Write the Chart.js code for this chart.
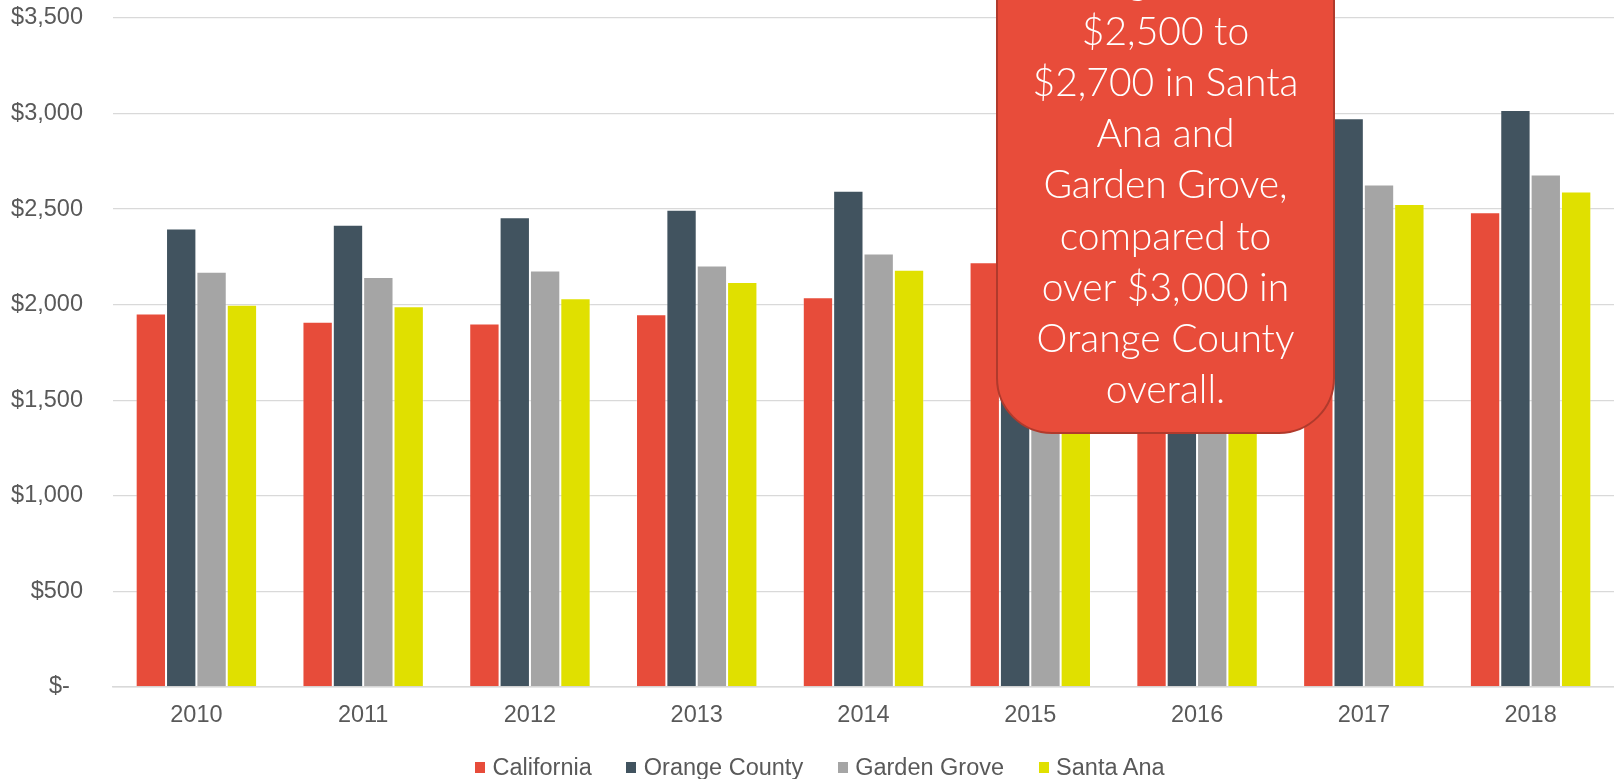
<!DOCTYPE html>
<html>
<head>
<meta charset="utf-8">
<script src="https://cdn.jsdelivr.net/npm/chart.js@4.4.1/dist/chart.umd.min.js"></script>
<style>
  html, body { margin: 0; padding: 0; background: #ffffff; overflow: hidden; }
  #wrap { position: relative; width: 1614px; height: 779px; }
  #legend { position: absolute; left: 475px; top: 754px; display: flex; align-items: center;
            font-family: 'Liberation Sans', Arial, sans-serif; font-size: 23.5px; color: #595959; white-space: nowrap; }
  #legend .item { display: flex; align-items: center; margin-right: 34.5px; }
  #legend .item:last-child { margin-right: 0; }
  #legend .box { width: 10px; height: 11px; margin-right: 7.5px; }
</style>
</head>
<body>
<div id="wrap">
  <canvas id="c" width="1614" height="779"></canvas>
  <div id="legend"></div>
</div>
<script>
// ---- data ----
const years = ['2010', '2011', '2012', '2013', '2014', '2015', '2016', '2017', '2018'];
const seriesNames = ['California', 'Orange County', 'Garden Grove', 'Santa Ana'];
const california   = [1953, 1910, 1901, 1950, 2039, 2222, 2330, 2420, 2484];
const orangeCounty = [2399, 2418, 2457, 2497, 2596, 2730, 2850, 2975, 3019];
const gardenGrove  = [2172, 2144, 2179, 2205, 2268, 2390, 2500, 2629, 2681];
const santaAna     = [2000, 1992, 2034, 2119, 2182, 2290, 2410, 2526, 2592];
const yMax = 3500;
const yStep = 500;
const calloutLines = ['range from', '$2,500 to', '$2,700 in Santa', 'Ana and', 'Garden Grove,',
                      'compared to', 'over $3,000 in', 'Orange County', 'overall.'];

const colors = ['#E74C3A', '#41535F', '#A5A5A5', '#E0E000'];
const seriesValues = [california, orangeCounty, gardenGrove, santaAna];

const datasets = seriesNames.map((name, i) => ({
  label: name,
  data: seriesValues[i],
  backgroundColor: colors[i],
  borderColor: 'rgba(255,255,255,0.28)',
  borderWidth: 1,
  borderSkipped: 'bottom',
  categoryPercentage: 0.728,
  barPercentage: 1.0
}));

const calloutPlugin = {
  id: 'callout',
  afterDraw(chart) {
    const ctx = chart.ctx;
    ctx.save();
    const x = 997, y = -80, w = 337, h = 513, r = 55;
    ctx.beginPath();
    ctx.moveTo(x, y);
    ctx.lineTo(x + w, y);
    ctx.lineTo(x + w, y + h - r);
    ctx.arcTo(x + w, y + h, x + w - r, y + h, r);
    ctx.lineTo(x + r, y + h);
    ctx.arcTo(x, y + h, x, y + h - r, r);
    ctx.closePath();
    ctx.fillStyle = '#E84C3A';
    ctx.fill();
    ctx.lineWidth = 2;
    ctx.strokeStyle = '#B03A2C';
    ctx.stroke();
    ctx.fillStyle = '#ffffff';
    ctx.font = "300 39px 'Source Sans Pro', 'Lato', 'Open Sans', sans-serif";
    ctx.textAlign = 'center';
    ctx.textBaseline = 'alphabetic';
    const cx = x + w / 2;
    calloutLines.forEach((line, i) => {
      ctx.fillText(line, cx, -6 + i * 51.1);
    });
    ctx.restore();
  }
};

const chart = new Chart(document.getElementById('c'), {
  type: 'bar',
  data: { labels: years, datasets },
  options: {
    responsive: false,
    animation: false,
    layout: { padding: { top: 18, right: 0, bottom: 34, left: 0 } },
    plugins: {
      legend: { display: false },
      tooltip: { enabled: false }
    },
    scales: {
      x: {
        grid: { display: false, drawTicks: false },
        border: { display: true, color: '#D9D9D9', width: 1.5 },
        ticks: { color: '#595959', padding: 15, font: { family: "'Liberation Sans', Arial, sans-serif", size: 23.5 } }
      },
      y: {
        min: 0,
        max: yMax,
        afterFit(scale) { scale.width = 113; scale.paddingTop = 0; scale.paddingBottom = 0; },
        ticks: {
          stepSize: yStep,
          color: '#595959',
          padding: 30,
          font: { family: "'Liberation Sans', Arial, sans-serif", size: 23.5 },
          callback: (v) => v === 0 ? '$-  ' : '$' + Number(v).toLocaleString('en-US')
        },
        grid: { color: '#D9D9D9', lineWidth: 1.3, drawTicks: false },
        border: { display: false }
      }
    }
  },
  plugins: [calloutPlugin]
});

// HTML legend built from the chart's datasets
const legendEl = document.getElementById('legend');
chart.data.datasets.forEach(ds => {
  const item = document.createElement('div');
  item.className = 'item';
  const box = document.createElement('span');
  box.className = 'box';
  box.style.background = ds.backgroundColor;
  const txt = document.createElement('span');
  txt.textContent = ds.label;
  item.appendChild(box);
  item.appendChild(txt);
  legendEl.appendChild(item);
});
</script>
</body>
</html>
